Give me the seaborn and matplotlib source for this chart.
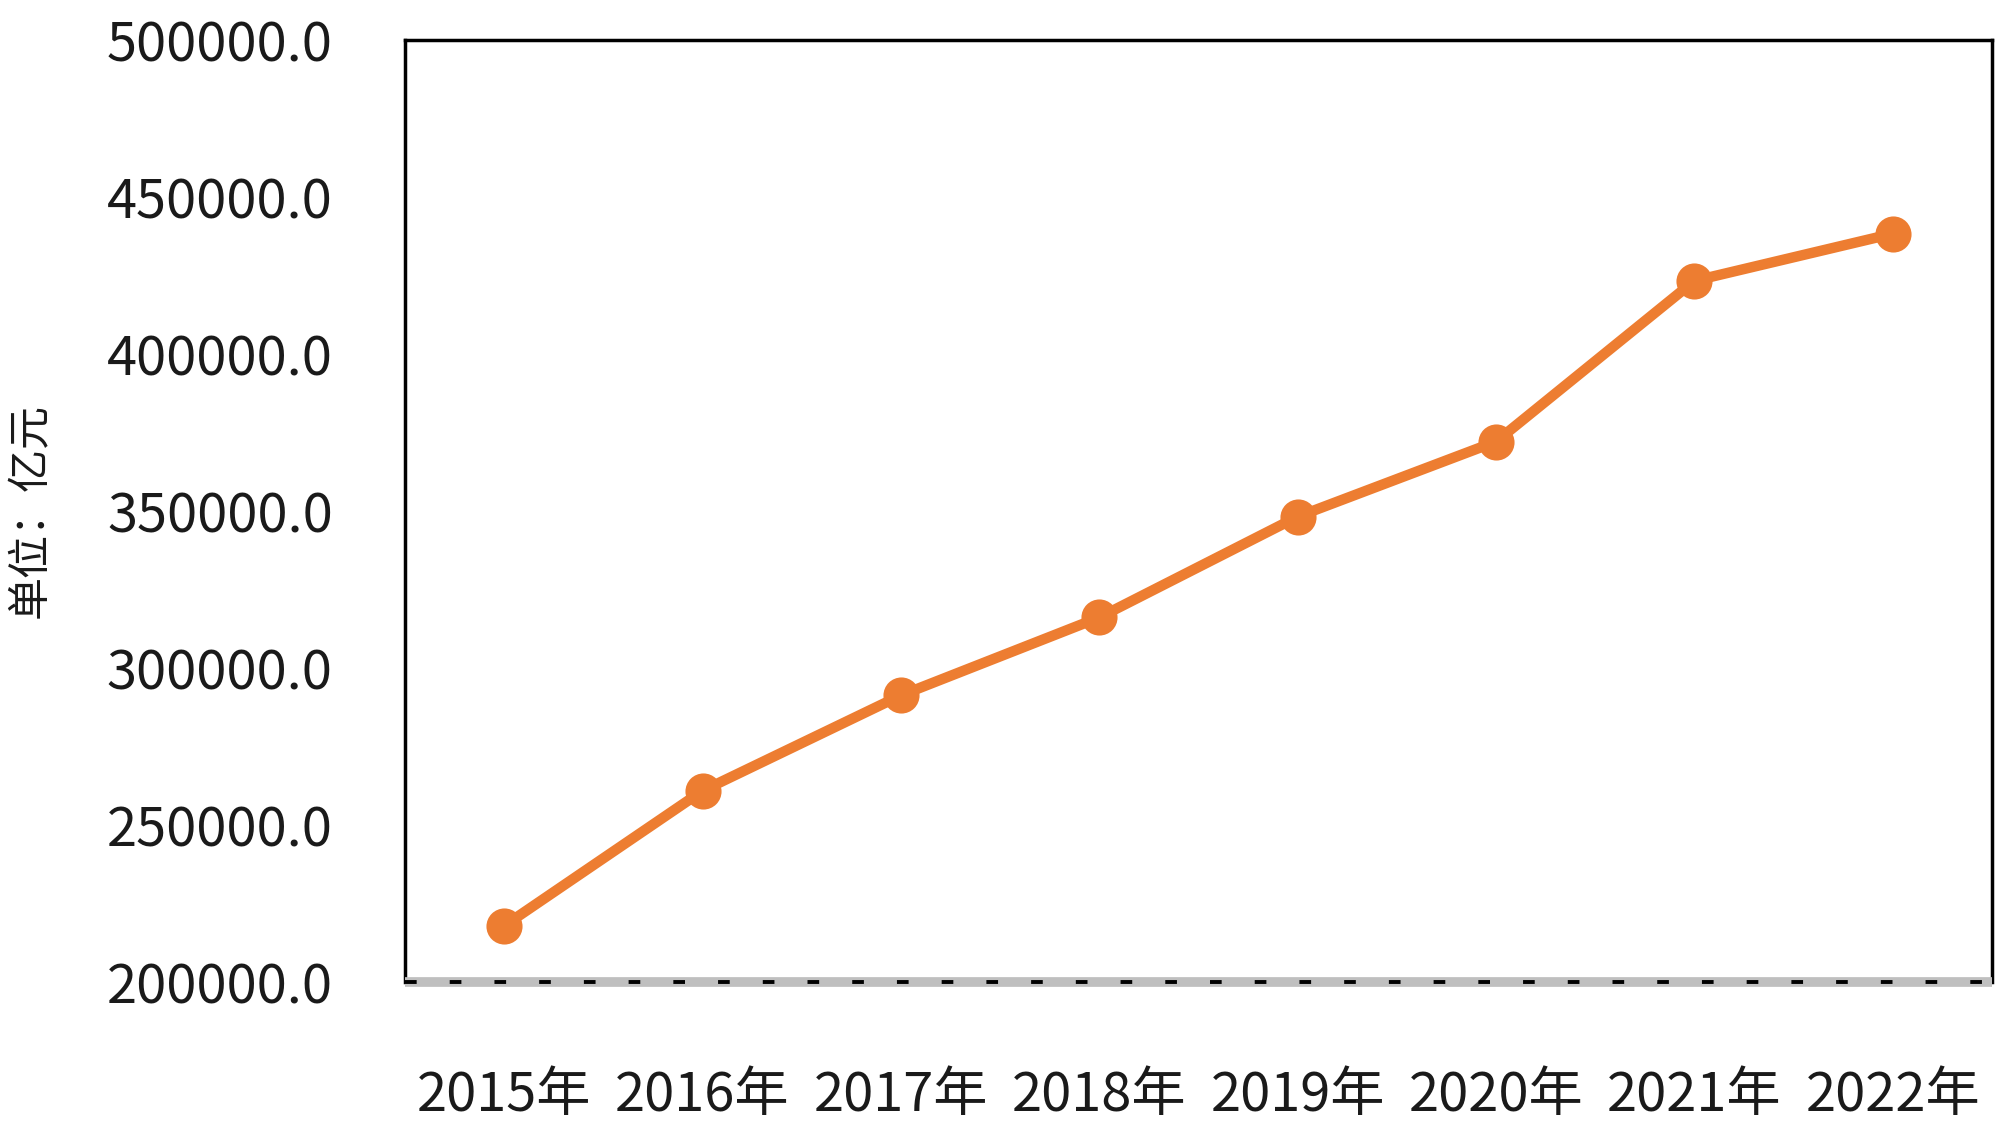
import matplotlib
matplotlib.use("Agg")
import matplotlib.pyplot as plt
import seaborn as sns
import pandas as pd
from matplotlib.ticker import StrMethodFormatter

# 数据（单位：亿元）
years = ["2015年", "2016年", "2017年", "2018年", "2019年", "2020年", "2021年", "2022年"]
values = [217900, 260900, 291300, 316100, 348200, 372100, 423300, 438300]
y_ticks = [200000, 250000, 300000, 350000, 400000, 450000, 500000]
y_label = "单位：亿元"

sns.set_theme(style="white")
plt.rcParams['font.family'] = ['Noto Sans CJK SC', 'DejaVu Sans']
plt.rcParams['font.weight'] = 'light'
plt.rcParams['axes.unicode_minus'] = False

df = pd.DataFrame({"year": years, "value": values})

fig = plt.figure(figsize=(20, 11.32), dpi=100)
ax = fig.add_axes([0.2025, 0.1325, 0.7935, 0.8322])

sns.lineplot(data=df, x="year", y="value", ax=ax, color="#ED7D31",
             linewidth=7.5, marker="o", markersize=26,
             markeredgecolor="#ED7D31", markeredgewidth=0, sort=False)

ax.set_xlim(-0.5, len(years) - 0.5)
ax.set_ylim(y_ticks[0], y_ticks[-1])
ax.set_yticks(y_ticks)
ax.yaxis.set_major_formatter(StrMethodFormatter("{x:.1f}"))

ax.tick_params(axis="both", length=0, labelsize=39, colors="#1a1a1a")
ax.tick_params(axis="y", pad=52)
ax.tick_params(axis="x", pad=62)
ax.set_xlabel("")
ax.set_ylabel(y_label, fontsize=31, color="#1a1a1a")
ax.yaxis.set_label_coords(-0.222, 0.5)

for side in ["left", "top", "right"]:
    ax.spines[side].set_color("black")
    ax.spines[side].set_linewidth(2.5)
    ax.spines[side].set_visible(True)
ax.spines["bottom"].set_color("#BFBFBF")
ax.spines["bottom"].set_linewidth(7)
ax.spines["bottom"].set_capstyle("butt")

# 底部黑色虚线
ax.axhline(y_ticks[0], color="black", linewidth=2.8, dashes=(3.0, 8.5),
           clip_on=False, zorder=5)

fig.savefig("out.png", dpi=100)
